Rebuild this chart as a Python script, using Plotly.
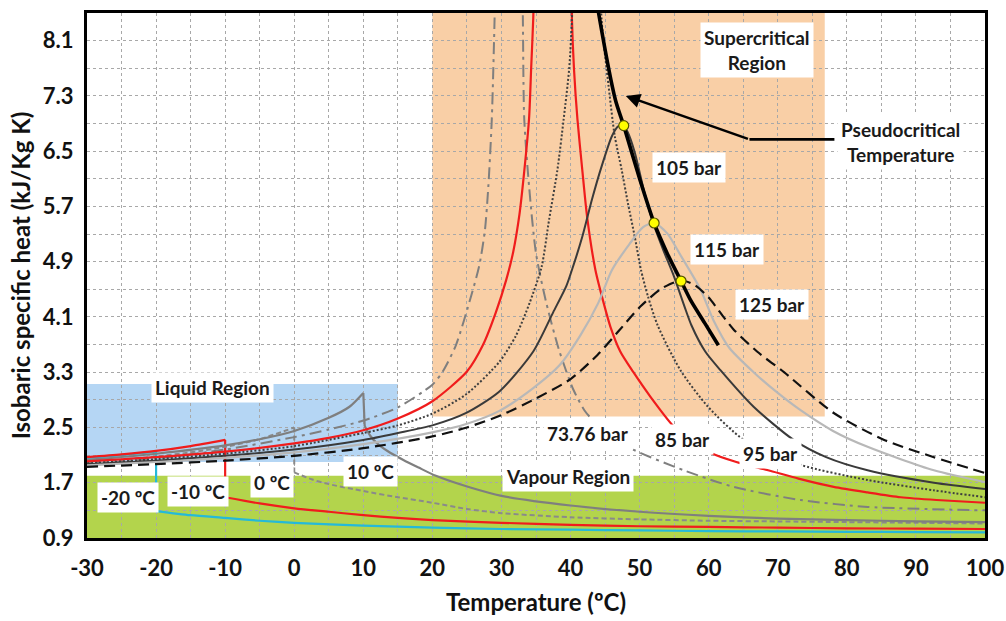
import plotly.graph_objects as go

# ---------------- data: CO2 isobaric specific heat (kJ/kg K) vs temperature (ºC) ----------------
# Subcritical isobars (labelled by saturation temperature): liquid branch and vapour branch
T_M20_LIQ = [-30, -25, -20]
CP_M20_LIQ = [2.06, 2.10, 2.15]
T_M20_VAP = [-20, -15, -10, -5, 0, 10, 20, 30, 40, 50, 60, 70, 80, 90, 100]
CP_M20_VAP = [1.29, 1.23, 1.19, 1.15, 1.12, 1.08, 1.05, 1.03, 1.02, 1.01, 1.00, 0.995, 0.99, 0.985, 0.98]

T_M10_LIQ = [-30, -25, -20, -15, -10]
CP_M10_LIQ = [2.07, 2.11, 2.16, 2.23, 2.32]
T_M10_VAP = [-10, -5, 0, 5, 10, 15, 20, 30, 40, 50, 60, 70, 80, 90, 100]
CP_M10_VAP = [1.49, 1.40, 1.33, 1.28, 1.23, 1.19, 1.16, 1.12, 1.09, 1.07, 1.06, 1.05, 1.04, 1.035, 1.03]

T_0_LIQ = [-30, -25, -20, -15, -10, -5, 0]
CP_0_LIQ = [1.99, 2.03, 2.08, 2.14, 2.22, 2.33, 2.50]
T_0_VAP = [0, 2.5, 5, 10, 15, 20, 25, 30, 40, 50, 60, 70, 80, 90, 100]
CP_0_VAP = [1.85, 1.75, 1.68, 1.58, 1.49, 1.41, 1.32, 1.26, 1.20, 1.17, 1.15, 1.14, 1.13, 1.12, 1.11]

T_10_LIQ = [-30, -20, -10, -5, 0, 5, 8, 10]
CP_10_LIQ = [2.03, 2.12, 2.24, 2.33, 2.45, 2.64, 2.80, 3.00]
T_10_VAP = [10.2, 11, 12, 13.5, 15.8, 18, 20.5, 25.5, 30, 40, 50, 60, 70, 80, 90, 100]
CP_10_VAP = [2.52, 2.38, 2.27, 2.16, 2.03, 1.92, 1.80, 1.63, 1.51, 1.37, 1.28, 1.22, 1.18, 1.16, 1.14, 1.13]

# Supercritical isobars (the branches meet above the top of the axis)
T_7376 = [-30, -20, -10, 0, 5, 10, 15, 20, 21.5, 23.4, 25.6, 26.8, 27.6, 28.1, 28.6, 29.0, 29.3, 29.8,
          32.6, 32.9, 33.1, 33.3, 34.0, 35.0, 36.5, 38.4, 40.4, 42.0, 43.3, 48.3, 56.4, 63.6, 73.3, 83.0, 100]
CP_7376 = [1.96, 2.05, 2.18, 2.36, 2.47, 2.60, 2.79, 3.12, 3.31, 3.69, 4.40, 4.85, 5.35, 5.99, 6.96, 8.40, 10.0, 14.0,
           14.0, 10.0, 8.40, 6.96, 5.99, 5.02, 4.30, 3.60, 3.05, 2.75, 2.60, 2.22, 1.88, 1.64, 1.45, 1.35, 1.30]

T_85 = [-30, -20, -10, 0, 5, 10, 15, 20, 25, 27.3, 29.2, 30.7, 31.7, 32.6, 33.3, 34.0, 34.3, 34.6, 35.0, 35.6,
        39.6, 40.0, 40.2, 40.5, 41.0, 41.7, 42.4, 43.6, 44.8, 45.8, 47.2, 49.1, 51.6, 54.8, 57.5, 60.3, 64,
        68.6, 73, 78.1, 83, 87.8, 93, 100]
CP_85 = [2.01, 2.07, 2.15, 2.27, 2.35, 2.46, 2.63, 2.88, 3.31, 3.69, 4.17, 4.64, 5.04, 5.58, 6.21, 6.98, 7.70, 8.42, 10.0, 14.0,
         14.0, 10.0, 8.42, 7.69, 6.96, 6.23, 5.55, 4.78, 4.30, 3.95, 3.60, 3.30, 2.94, 2.53, 2.30, 2.13, 2.00,
         1.88, 1.76, 1.64, 1.56, 1.49, 1.45, 1.41]

T_95 = [-30, -20, -10, 0, 10, 15, 20, 24.9, 29.7, 32.1, 34.1, 35.8, 36.9, 38.1, 39.0, 39.8, 40.2, 40.6, 41.2,
        43.7, 44.1, 44.5, 45.5, 46.4, 47.4, 48.3, 49.3, 50.2, 51.2, 52.6, 55.9, 59.9, 65.1, 73.3, 83, 92.6, 100]
CP_95 = [1.98, 2.04, 2.12, 2.23, 2.42, 2.53, 2.70, 2.98, 3.45, 3.83, 4.31, 4.82, 5.51, 6.23, 6.96, 7.69, 8.40, 10.0, 14.0,
         14.0, 10.0, 8.40, 7.45, 6.72, 6.23, 5.75, 5.26, 4.78, 4.40, 3.98, 3.33, 2.80, 2.32, 1.96, 1.74, 1.59, 1.49]

T_105 = [-30, -20, -10, 0, 10, 15, 20, 24.9, 29.7, 34.6, 37.5, 39.4, 40.2, 41.7, 43.1, 44.5, 46.0, 46.9, 47.6,
         48.3, 49.3, 50.7, 52.0, 53.5, 55.0, 56.5, 57.5, 59.5, 61.7, 66.5, 72.3, 77, 83, 92.6, 100]
CP_105 = [1.97, 2.02, 2.09, 2.18, 2.32, 2.42, 2.53, 2.71, 3.02, 3.60, 4.17, 4.55, 4.78, 5.26, 5.80, 6.28, 6.72, 6.86, 6.88,
          6.77, 6.48, 5.90, 5.45, 5.05, 4.68, 4.25, 3.98, 3.60, 3.33, 2.80, 2.32, 2.07, 1.88, 1.70, 1.61]

T_115 = [-30, -20, -10, 0, 10, 20, 24.9, 29.7, 34.6, 38.4, 41.4, 44.0, 46.0, 48.5, 50.5, 52.1, 54, 56, 58.8,
         60.7, 63, 66.5, 70, 73.3, 78, 83, 92.6, 100]
CP_115 = [1.95, 2.00, 2.06, 2.14, 2.26, 2.43, 2.55, 2.74, 3.07, 3.40, 3.83, 4.30, 4.78, 5.15, 5.40, 5.46, 5.31, 4.98, 4.50,
          4.05, 3.65, 3.30, 3.00, 2.75, 2.45, 2.22, 1.88, 1.71]

T_125 = [-30, -20, -10, 0, 10, 20, 25, 30, 35, 40, 43.9, 47, 50.1, 53, 55, 56.5, 58, 60, 62, 63.6, 67, 70.9,
         78.1, 85.4, 92.6, 100]
CP_125 = [1.93, 1.97, 2.02, 2.09, 2.20, 2.37, 2.50, 2.68, 2.92, 3.20, 3.55, 3.90, 4.25, 4.50, 4.60, 4.62, 4.56, 4.38, 4.12,
          3.92, 3.60, 3.30, 2.71, 2.32, 2.07, 1.84]

# Pseudocritical temperature locus and the cp maxima of 105, 115, 125 bar
T_PSEUDO = [43.3, 44.06, 46.5, 47.7, 50.0, 52.1, 54.0, 56.0, 57.4, 59.5, 61.4]
CP_PSEUDO = [9.0, 8.5, 7.24, 6.87, 6.10, 5.46, 5.02, 4.62, 4.34, 4.00, 3.69]
T_PEAK = [47.7, 52.1, 56.0]
CP_PEAK = [6.87, 5.46, 4.62]

# Shaded regions: (x0, x1, y0, y1)
SUPERCRITICAL_BOX = (20, 76.8, 2.66, 8.5)
LIQUID_BOX = (-30, 15, 2.0, 3.13)
VAPOUR_BOX = (-30, 100, 0.9, 1.8)

# Axis ticks
X_GRID = list(range(-30, 101, 5))
X_LABELS = [str(v) if v % 10 == 0 else "" for v in X_GRID]
Y_GRID = [round(0.9 + 0.4 * k, 1) for k in range(20)]
Y_LABELS = [f"{v:.1f}" if k % 2 == 0 and v < 8.4 else "" for k, v in enumerate(Y_GRID)]

# Text labels: (text, x, y)
REGION_LABELS = [
    ("Liquid Region", -11.9, 3.08),
    ("Vapour Region", 39.6, 1.79),
    ("Supercritical<br>Region", 67.0, 7.96),
]
TEMP_LABELS = [
    ("-20 ºC", -24.0, 1.48),
    ("-10 ºC", -13.9, 1.58),
    ("0 ºC", -3.2, 1.71),
    ("10 ºC", 11.0, 1.86),
]
PRESSURE_LABELS = [
    ("73.76 bar", 42.5, 2.42),
    ("85 bar", 56.2, 2.32),
    ("95 bar", 69.0, 2.12),
    ("105 bar", 57.2, 6.26),
    ("115 bar", 62.6, 5.08),
    ("125 bar", 69.2, 4.28),
]
PSEUDO_LABEL = ("Pseudocritical<br>Temperature", 87.8, 6.63)
ARROW_TIP = (48.0, 7.30)
ARROW_BEND = (65.9, 6.67)
ARROW_START_X = 78.2

FONT = "Lato"

fig = go.Figure()


def curve(tx, cy, col, w, dash, shape="spline"):
    fig.add_trace(go.Scatter(x=tx, y=cy, mode="lines",
                             line=dict(color=col, width=w, dash=dash, shape=shape, smoothing=0.7),
                             hoverinfo="skip", showlegend=False))


# ---------------- subcritical isobars: liquid, jump at saturation, vapour ----------------
subcritical = [
    (T_M20_LIQ, CP_M20_LIQ, T_M20_VAP, CP_M20_VAP, "#25B9D9", 2.2, "solid"),
    (T_M10_LIQ, CP_M10_LIQ, T_M10_VAP, CP_M10_VAP, "#F01C1C", 2.2, "solid"),
    (T_0_LIQ, CP_0_LIQ, T_0_VAP, CP_0_VAP, "#8A8A8A", 2.0, "5px,3px"),
    (T_10_LIQ, CP_10_LIQ, T_10_VAP, CP_10_VAP, "#7F7F7F", 2.2, "solid"),
]
for tl, cl, tv, cv, col, w, dash in subcritical:
    curve(tl, cl, col, w, dash)
    curve([tl[-1], tv[0]], [cl[-1], cv[0]], col, w, dash, shape="linear")
    curve(tv, cv, col, w, dash)

# ---------------- supercritical isobars ----------------
supercritical = [
    (T_7376, CP_7376, "#7F7F7F", 2.0, "12px,5px,3px,5px"),
    (T_85, CP_85, "#F01C1C", 2.2, "solid"),
    (T_95, CP_95, "#3F3F3F", 2.0, "2px,2px"),
    (T_105, CP_105, "#3A3A3A", 2.0, "solid"),
    (T_115, CP_115, "#B8B8B8", 2.2, "solid"),
    (T_125, CP_125, "#111111", 2.2, "11px,6px"),
]
for tx, cy, col, w, dash in supercritical:
    curve(tx, cy, col, w, dash)

curve(T_PSEUDO, CP_PSEUDO, "black", 3.6, "solid")
fig.add_trace(go.Scatter(x=T_PEAK, y=CP_PEAK, mode="markers",
                         marker=dict(color="#FFFF00", size=10, line=dict(color="#555500", width=1.2)),
                         hoverinfo="skip", showlegend=False))

# ---------------- shaded regions ----------------
region_fill = [
    (SUPERCRITICAL_BOX, "#F9CFA6"),
    (LIQUID_BOX, "#B5D6F4"),
    (VAPOUR_BOX, "#B3D44C"),
]
for (x0, x1, y0, y1), col in region_fill:
    fig.add_shape(type="rect", xref="x", yref="y", x0=x0, x1=x1, y0=y0, y1=y1,
                  fillcolor=col, line=dict(width=0), layer="below")

# ---------------- arrow to pseudocritical line ----------------
fig.add_shape(type="line", xref="x", yref="y", x0=ARROW_START_X, x1=ARROW_BEND[0],
              y0=ARROW_BEND[1], y1=ARROW_BEND[1], line=dict(color="black", width=2.6))
fig.add_annotation(x=ARROW_TIP[0], y=ARROW_TIP[1], ax=ARROW_BEND[0], ay=ARROW_BEND[1],
                   xref="x", yref="y", axref="x", ayref="y", text="", showarrow=True,
                   arrowhead=2, arrowsize=1.1, arrowwidth=2.6, arrowcolor="black")


# ---------------- text labels ----------------
def boxed(text, x, y, size=19):
    fig.add_annotation(x=x, y=y, xref="x", yref="y", text=text, showarrow=False,
                       font=dict(family=FONT, size=size, color="#1a1a1a", weight="bold"),
                       bgcolor="white", borderpad=3, align="center")


for t, x, y in REGION_LABELS + TEMP_LABELS + PRESSURE_LABELS + [PSEUDO_LABEL]:
    boxed(t, x, y)

# ---------------- axes ----------------
grid = dict(showgrid=True, gridcolor="#A8A8A8", gridwidth=1, griddash="3px,3px", zeroline=False,
            showline=True, linecolor="black", linewidth=3, mirror=True, ticks="", automargin=False)
fig.update_xaxes(range=[-30, 100], tickmode="array", tickvals=X_GRID, ticktext=X_LABELS,
                 tickfont=dict(family=FONT, size=22, color="#111111", weight="bold"),
                 ticklabelstandoff=9,
                 title=dict(text="Temperature (ºC)", standoff=14,
                            font=dict(family=FONT, size=24, color="#111111", weight="bold")),
                 **grid)
fig.update_yaxes(range=[0.9, 8.5], tickmode="array", tickvals=Y_GRID, ticktext=Y_LABELS,
                 tickfont=dict(family=FONT, size=22, color="#111111", weight="bold"),
                 ticklabelstandoff=6,
                 title=dict(text="Isobaric specific heat (kJ/Kg K)", standoff=6,
                            font=dict(family=FONT, size=24, color="#111111", weight="bold")),
                 **grid)

fig.update_layout(width=1006, height=621, margin=dict(l=87, r=21, t=13, b=83),
                  paper_bgcolor="white", plot_bgcolor="white", showlegend=False)

fig.write_html("out.html")
